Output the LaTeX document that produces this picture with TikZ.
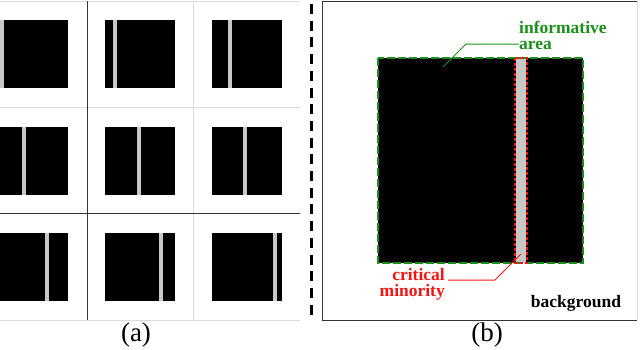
\documentclass[tikz,border=0pt]{standalone}
\usepackage{fontspec}
\setmainfont{Liberation Serif}
\newfontfamily\timesfont{Liberation Serif}
\usetikzlibrary{positioning}

\definecolor{areagreen}{RGB}{25,145,25}
\definecolor{minorred}{RGB}{245,20,20}
\definecolor{stripegray}{RGB}{200,200,200}

\begin{document}
\begin{tikzpicture}[x=1pt, y=-1pt,
  cell/.style={fill=black},
  stripe/.style={fill=stripegray},
  thingrid/.style={draw=black!14, line width=1pt},
  darkgrid/.style={draw=black!80, line width=1pt},
  label/.style={font=\timesfont\bfseries\fontsize{17.5}{16}\selectfont, inner sep=0pt},
  caption/.style={font=\timesfont\fontsize{27}{27}\selectfont, inner sep=0pt},
  lead/.style={line width=1pt},
]
  \useasboundingbox (0,0) rectangle (640,349);

  % (a) grid of samples
  \foreach \y/\sa/\sb/\sc in {20/0/113/228, 127/22/137/243, 233/45/159/273} {
    \foreach \x/\s in {-2/\sa, 105/\sb, 212/\sc} {
      \fill[cell] (\x,\y) rectangle ++(70,68);
      \fill[stripe] (\s,\y) rectangle ++(4,68);
    }
  }
  \draw[thingrid] (0,1) -- (300,1);
  \draw[thingrid] (0,107) -- (300,107);
  \draw[thingrid] (0,320) -- (300,320);
  \draw[thingrid] (193,1) -- (193,320);
  \draw[darkgrid] (0,213) -- (300,213);
  \draw[darkgrid] (87,1) -- (87,320);
  \node[caption] (capa) at (136,335) {(a)};

  % divider
  \draw[line width=2.5pt, dash pattern=on 10pt off 6.7pt] (311.5,4) -- (311.5,318);

  % (b) single sample
  \draw[darkgrid] (637,1) -- (322,1) -- (322,320) -- (637,320);
  \draw[thingrid] (637,1) -- (637,320);
  \fill[cell] (378,58) rectangle (583,263);
  \fill[stripe] (516,58) rectangle (526,263);
  \draw[areagreen, line width=2pt, dash pattern=on 8pt off 3pt] (378,58) rectangle (583,263);
  \draw[minorred, line width=1.5pt, dash pattern=on 3pt off 2pt] (515,58) rectangle (527,263);

  \node[label, areagreen, anchor=south west, align=left] (info) at (519,50) {informative\\area};
  \coordinate (infotip) at (443,67);
  \coordinate (infobend) at (466,44);
  \draw[lead, areagreen] (info.west |- infobend) -- (infobend) -- (infotip);

  \node[label, minorred, anchor=south east, align=right] (minor) at (445,300) {critical\\minority};
  \coordinate (minortip) at (521,254);
  \coordinate (minorbend) at (495,280);
  \draw[lead, minorred] ([xshift=3pt]minor.east |- minorbend) -- (minorbend) -- (minortip);

  \node[label, anchor=base] (bg) at (576,307) {background};
  \node[caption] (capb) at (487,335) {(b)};
\end{tikzpicture}
\end{document}
